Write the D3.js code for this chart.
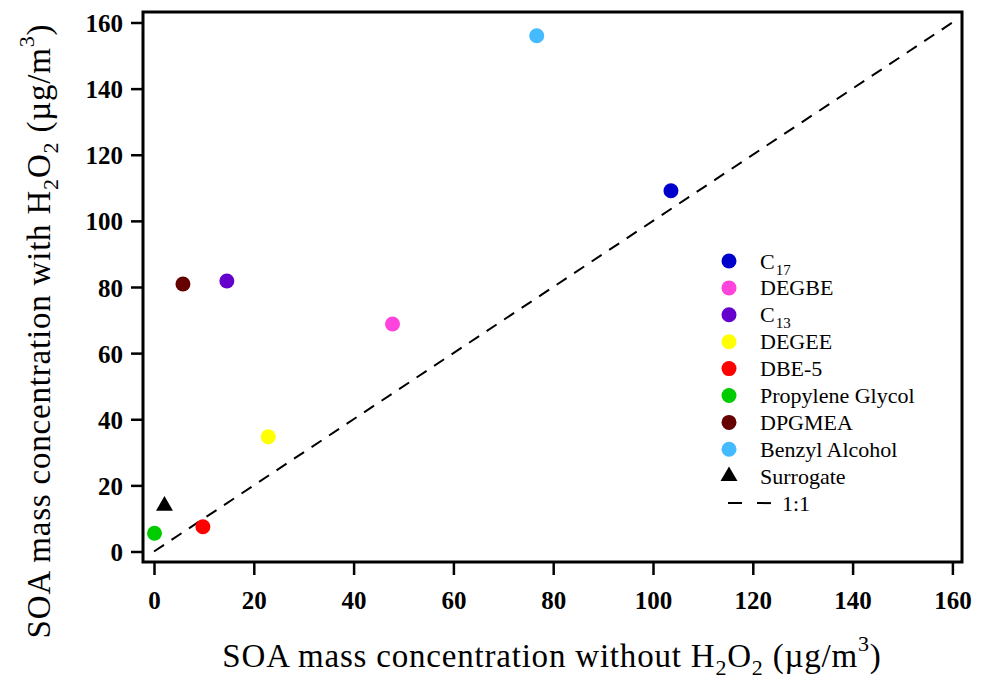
<!DOCTYPE html>
<html>
<head>
<meta charset="utf-8">
<script src="https://cdn.jsdelivr.net/npm/d3@7"></script>
<style>
  body { margin: 0; background: #fff; }
  svg { display: block; }
  svg text { font-family: "Liberation Serif", "Times New Roman", Times, "DejaVu Serif", serif; }
</style>
</head>
<body>
<script>
// --- data ---
var names = ["C17", "DEGBE", "C13", "DEGEE", "DBE-5", "Propylene Glycol", "DPGMEA", "Benzyl Alcohol", "Surrogate"];
var withoutH2O2 = [103.6, 47.8, 14.6, 22.9, 9.8, 0.1, 5.8, 76.7, 2.1];
var withH2O2 = [109.1, 68.8, 81.8, 34.7, 7.5, 5.5, 80.9, 156.0, 13.8];
var colors = ["#0000cc", "#ff44dd", "#6600cc", "#ffff00", "#ff0000", "#00cc00", "#660000", "#44bbff", "#000000"];
var xTicks = [0, 20, 40, 60, 80, 100, 120, 140, 160];
var yTicks = [0, 20, 40, 60, 80, 100, 120, 140, 160];
var oneToOne = [0, 160];

var FONT = "'Liberation Serif', 'Times New Roman', Times, 'DejaVu Serif', serif";
var width = 984, height = 681;
var box = { left: 143, top: 12, right: 962, bottom: 562 };

var svg = d3.select("body").append("svg")
    .attr("width", width)
    .attr("height", height)
    .attr("font-family", FONT);

var xscale = d3.scaleLinear().domain([0, 160]).range([154, 952.4]);
var yscale = d3.scaleLinear().domain([0, 160]).range([551.5, 22.5]);

// frame
svg.append("rect")
    .attr("x", box.left).attr("y", box.top)
    .attr("width", box.right - box.left).attr("height", box.bottom - box.top)
    .attr("fill", "none").attr("stroke", "#000").attr("stroke-width", 3);

// axes
var x_axis = d3.axisBottom(xscale).tickValues(xTicks).tickSize(12).tickPadding(16);
var y_axis = d3.axisLeft(yscale).tickValues(yTicks).tickSize(11).tickPadding(8);

var gx = svg.append("g").attr("transform", "translate(0," + (box.bottom + 1) + ")").call(x_axis);
var gy = svg.append("g").attr("transform", "translate(" + (box.left - 1) + ",0)").call(y_axis);

[gx, gy].forEach(function (g) {
    g.attr("font-family", FONT);
    g.select(".domain").remove();
    g.selectAll(".tick line").attr("stroke-width", 2.5);
    g.selectAll(".tick text")
        .attr("font-family", FONT)
        .attr("font-weight", "bold")
        .attr("font-size", 25)
        .attr("fill", "#000");
});
gy.selectAll(".tick text").attr("dy", "0.36em");

// 1:1 line
svg.append("line")
    .attr("x1", xscale(oneToOne[0])).attr("y1", yscale(oneToOne[0]))
    .attr("x2", xscale(oneToOne[1])).attr("y2", yscale(oneToOne[1]))
    .attr("stroke", "#000").attr("stroke-width", 2)
    .attr("stroke-dasharray", "12,9");

// points
var pts = names.map(function (n, i) {
    return { name: n, x: withoutH2O2[i], y: withH2O2[i], color: colors[i] };
});

svg.append("g").selectAll("circle")
    .data(pts.filter(function (d) { return d.name != "Surrogate"; }))
    .enter().append("circle")
    .attr("cx", function (d) { return xscale(d.x); })
    .attr("cy", function (d) { return yscale(d.y); })
    .attr("r", 7.5)
    .attr("fill", function (d) { return d.color; });

var tri = d3.symbol().type(d3.symbolTriangle).size(125);
svg.append("g").selectAll("path")
    .data(pts.filter(function (d) { return d.name == "Surrogate"; }))
    .enter().append("path")
    .attr("d", tri)
    .attr("transform", function (d) { return "translate(" + xscale(d.x) + "," + yscale(d.y) + ")"; })
    .attr("fill", "#000");

// legend
var legX = 729, legTextX = 760, legY0 = 261, legStep = 26.9;
var leg = svg.append("g");
names.forEach(function (n, i) {
    var y = legY0 + i * legStep;
    if (n == "Surrogate") {
        leg.append("path").attr("d", tri).attr("transform", "translate(" + legX + "," + y + ")").attr("fill", "#000");
    } else {
        leg.append("circle").attr("cx", legX).attr("cy", y).attr("r", 7.5).attr("fill", colors[i]);
    }
    var t = leg.append("text").attr("x", legTextX).attr("y", y + 7.5).attr("font-size", 22).attr("fill", "#000");
    var m = n.match(/^C(\d+)$/);
    if (m) {
        t.append("tspan").text("C");
        t.append("tspan").attr("dx", 1).attr("dy", 6).attr("font-size", 15).text(m[1]);
    } else {
        t.text(n);
    }
});
var yl = legY0 + names.length * legStep;
leg.append("line")
    .attr("x1", 728).attr("x2", 771).attr("y1", yl).attr("y2", yl)
    .attr("stroke", "#000").attr("stroke-width", 2).attr("stroke-dasharray", "14,15");
leg.append("text").attr("x", 782).attr("y", yl + 7.5).attr("font-size", 22).text("1:1");

// axis titles
function title(t, word) {
    t.append("tspan").text("SOA mass concentration " + word + " H");
    t.append("tspan").attr("dy", 8).attr("font-size", 22).text("2");
    t.append("tspan").attr("dy", -8).text("O");
    t.append("tspan").attr("dy", 8).attr("font-size", 22).text("2");
    t.append("tspan").attr("dy", -8).text(" (\u00b5g/m");
    t.append("tspan").attr("dy", -16).attr("font-size", 22).text("3");
    t.append("tspan").attr("dy", 16).text(")");
}

var xt = svg.append("text")
    .attr("x", 552).attr("y", 667)
    .attr("text-anchor", "middle").attr("font-size", 33)
    .attr("letter-spacing", 0.8).attr("fill", "#000");
title(xt, "without");

var ytt = svg.append("text")
    .attr("transform", "translate(50,331) rotate(-90)")
    .attr("text-anchor", "middle").attr("font-size", 33)
    .attr("letter-spacing", 0.8).attr("fill", "#000");
title(ytt, "with");
</script>
</body>
</html>
